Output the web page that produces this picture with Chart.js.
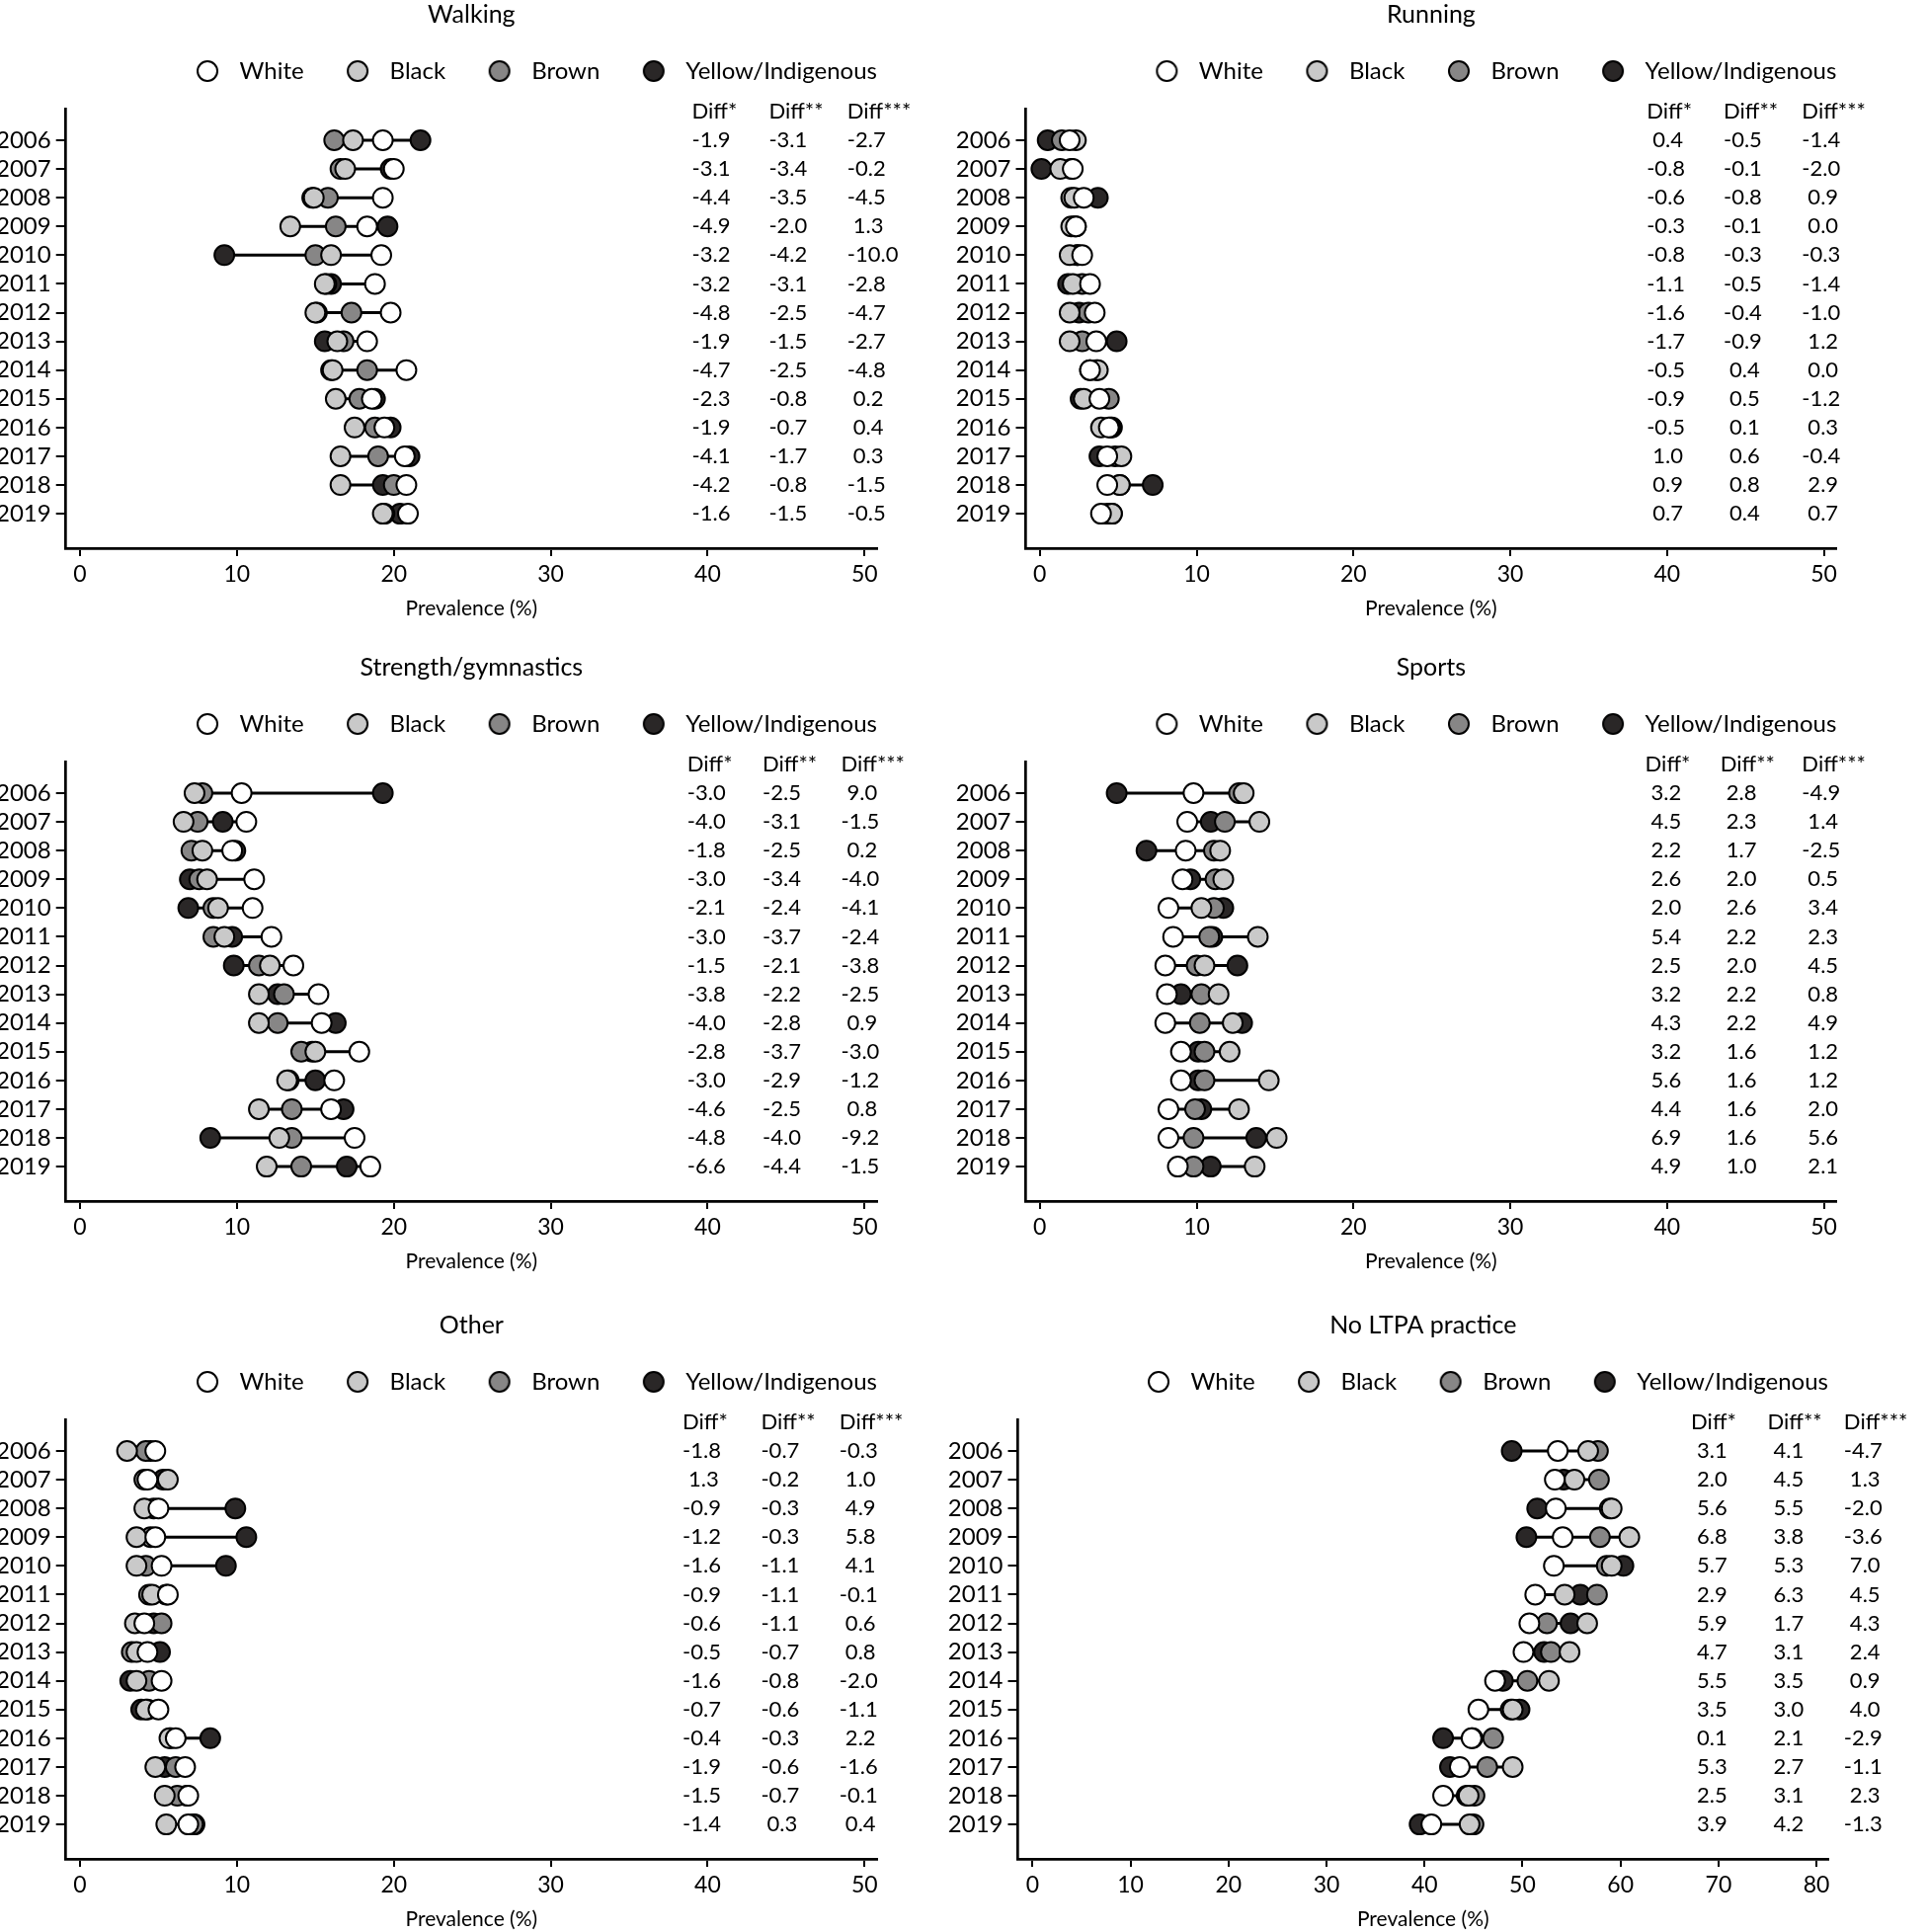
<!DOCTYPE html>
<html><head><meta charset="utf-8">
<script src="https://cdn.jsdelivr.net/npm/chart.js@4.4.1/dist/chart.umd.min.js"></script>
<style>
html,body{margin:0;padding:0;background:#fff;overflow:hidden;width:1952px;height:1956px}
canvas{position:absolute;display:block}
</style></head><body>
<canvas id="c1" width="960" height="629" style="left:0;top:0"></canvas>
<canvas id="c2" width="992" height="629" style="left:960px;top:0"></canvas>
<canvas id="c3" width="960" height="629" style="left:0;top:661px"></canvas>
<canvas id="c4" width="992" height="629" style="left:960px;top:661px"></canvas>
<canvas id="c5" width="960" height="629" style="left:0;top:1327px"></canvas>
<canvas id="c6" width="992" height="629" style="left:960px;top:1327px"></canvas>
<script>
const years = [2006,2007,2008,2009,2010,2011,2012,2013,2014,2015,2016,2017,2018,2019];
const seriesNames = ['White','Black','Brown','Yellow/Indigenous'];
const diffHeaders = ['Diff*','Diff**','Diff***'];

// Walking
const walkWhite  = [19.3,20.0,19.3,18.3,19.2,18.8,19.8,18.3,20.8,18.6,19.4,20.7,20.8,20.9];
const walkBlack  = [17.4,16.9,14.9,13.4,16.0,15.6,15.0,16.4,16.1,16.3,17.5,16.6,16.6,19.3];
const walkBrown  = [16.2,16.6,15.8,16.3,15.0,15.7,17.3,16.8,18.3,17.8,18.8,19.0,20.0,19.4];
const walkYellow = [21.7,19.8,14.8,19.6,9.2,16.0,15.1,15.6,16.0,18.8,19.8,21.0,19.3,20.4];
const walkD1 = [-1.9,-3.1,-4.4,-4.9,-3.2,-3.2,-4.8,-1.9,-4.7,-2.3,-1.9,-4.1,-4.2,-1.6];
const walkD2 = [-3.1,-3.4,-3.5,-2.0,-4.2,-3.1,-2.5,-1.5,-2.5,-0.8,-0.7,-1.7,-0.8,-1.5];
const walkD3 = [-2.7,-0.2,-4.5,1.3,-10.0,-2.8,-4.7,-2.7,-4.8,0.2,0.4,0.3,-1.5,-0.5];

// Running
const runWhite  = [1.9,2.1,2.8,2.3,2.7,3.2,3.5,3.6,3.2,3.8,4.4,4.3,4.3,3.9];
const runBlack  = [2.3,1.3,2.2,2.0,1.9,2.1,1.9,1.9,3.7,2.8,3.9,5.2,5.1,4.6];
const runBrown  = [1.4,2.0,2.0,2.2,2.4,2.7,3.1,2.7,3.6,4.4,4.5,4.8,5.1,4.3];
const runYellow = [0.5,0.1,3.7,2.3,2.4,1.8,2.5,4.9,3.2,2.6,4.6,3.8,7.2,4.6];
const runD1 = [0.4,-0.8,-0.6,-0.3,-0.8,-1.1,-1.6,-1.7,-0.5,-0.9,-0.5,1.0,0.9,0.7];
const runD2 = [-0.5,-0.1,-0.8,-0.1,-0.3,-0.5,-0.4,-0.9,0.4,0.5,0.1,0.6,0.8,0.4];
const runD3 = [-1.4,-2.0,0.9,0.0,-0.3,-1.4,-1.0,1.2,0.0,-1.2,0.3,-0.4,2.9,0.7];

// Strength/gymnastics
const strWhite  = [10.3,10.6,9.7,11.1,11.0,12.2,13.6,15.2,15.4,17.8,16.2,16.0,17.5,18.5];
const strBlack  = [7.3,6.6,7.8,8.1,8.8,9.2,12.1,11.4,11.4,15.0,13.2,11.4,12.7,11.9];
const strBrown  = [7.8,7.5,7.1,7.6,8.5,8.5,11.4,13.0,12.6,14.1,13.3,13.5,13.5,14.1];
const strYellow = [19.3,9.1,9.9,7.0,6.9,9.7,9.8,12.6,16.3,14.8,15.0,16.8,8.3,17.0];
const strD1 = [-3.0,-4.0,-1.8,-3.0,-2.1,-3.0,-1.5,-3.8,-4.0,-2.8,-3.0,-4.6,-4.8,-6.6];
const strD2 = [-2.5,-3.1,-2.5,-3.4,-2.4,-3.7,-2.1,-2.2,-2.8,-3.7,-2.9,-2.5,-4.0,-4.4];
const strD3 = [9.0,-1.5,0.2,-4.0,-4.1,-2.4,-3.8,-2.5,0.9,-3.0,-1.2,0.8,-9.2,-1.5];

// Sports
const spWhite  = [9.8,9.4,9.3,9.1,8.2,8.5,8.0,8.1,8.0,9.0,9.0,8.2,8.2,8.8];
const spBlack  = [13.0,14.0,11.5,11.7,10.3,13.9,10.5,11.4,12.3,12.1,14.6,12.7,15.1,13.7];
const spBrown  = [12.7,11.8,11.1,11.2,11.1,10.8,10.0,10.3,10.2,10.5,10.5,9.9,9.8,9.8];
const spYellow = [4.9,10.9,6.8,9.6,11.7,11.0,12.6,9.0,12.9,10.1,10.1,10.3,13.8,10.9];
const spD1 = [3.2,4.5,2.2,2.6,2.0,5.4,2.5,3.2,4.3,3.2,5.6,4.4,6.9,4.9];
const spD2 = [2.8,2.3,1.7,2.0,2.6,2.2,2.0,2.2,2.2,1.6,1.6,1.6,1.6,1.0];
const spD3 = [-4.9,1.4,-2.5,0.5,3.4,2.3,4.5,0.8,4.9,1.2,1.2,2.0,5.6,2.1];

// Other
const othWhite  = [4.8,4.3,5.0,4.8,5.2,5.6,4.1,4.3,5.2,5.0,6.1,6.7,6.9,6.9];
const othBlack  = [3.0,5.6,4.1,3.6,3.6,4.6,3.5,3.6,3.6,4.2,5.7,4.8,5.4,5.5];
const othBrown  = [4.2,4.1,4.7,4.5,4.2,4.4,5.2,3.3,4.4,4.3,5.8,6.1,6.2,7.2];
const othYellow = [4.5,5.3,9.9,10.6,9.3,5.5,4.7,5.1,3.2,3.9,8.3,5.4,6.8,7.3];
const othD1 = [-1.8,1.3,-0.9,-1.2,-1.6,-0.9,-0.6,-0.5,-1.6,-0.7,-0.4,-1.9,-1.5,-1.4];
const othD2 = [-0.7,-0.2,-0.3,-0.3,-1.1,-1.1,-1.1,-0.7,-0.8,-0.6,-0.3,-0.6,-0.7,0.3];
const othD3 = [-0.3,1.0,4.9,5.8,4.1,-0.1,0.6,0.8,-2.0,-1.1,2.2,-1.6,-0.1,0.4];

// No LTPA practice
const ltWhite  = [53.6,53.3,53.4,54.1,53.2,51.3,50.7,50.1,47.2,45.5,44.8,43.6,41.9,40.7];
const ltBlack  = [56.7,55.3,59.1,60.9,59.1,54.3,56.6,54.8,52.7,49.0,44.9,49.0,44.5,44.6];
const ltBrown  = [57.7,57.8,58.9,57.9,58.6,57.6,52.5,52.9,50.5,48.8,47.0,46.4,45.1,45.0];
const ltYellow = [48.9,54.2,51.5,50.4,60.3,55.9,54.9,52.2,48.0,49.7,41.9,42.6,44.3,39.5];
const ltD1 = [3.1,2.0,5.6,6.8,5.7,2.9,5.9,4.7,5.5,3.5,0.1,5.3,2.5,3.9];
const ltD2 = [4.1,4.5,5.5,3.8,5.3,6.3,1.7,3.1,3.5,3.0,2.1,2.7,3.1,4.2];
const ltD3 = [-4.7,1.3,-2.0,-3.6,7.0,4.5,4.3,2.4,0.9,4.0,-2.9,-1.1,2.3,-1.3];

const ticks50 = [0,10,20,30,40,50];
const ticks80 = [0,10,20,30,40,50,60,70,80];

const fills = ['#ffffff','#c9c9c9','#878686','#2a2727'];

function legendMarker(fill){
  const c = document.createElement('canvas');
  c.width = 60; c.height = 28;
  const g = c.getContext('2d');
  g.beginPath(); g.arc(47, 14, 10, 0, Math.PI*2);
  g.fillStyle = fill; g.fill();
  g.lineWidth = 2; g.strokeStyle = '#000'; g.stroke();
  return c;
}

const diffPlugin = {
  id: 'diffCols',
  afterDatasetsDraw(chart, args, o) {
    if (!o || !o.cols) return;
    const {ctx} = chart; const x = chart.scales.x, y = chart.scales.y;
    ctx.save();
    ctx.font = '22px Lato'; ctx.fillStyle = '#000';
    ctx.textBaseline = 'middle'; ctx.textAlign = 'left';
    diffHeaders.forEach((h, j) => {
      const px = x.getPixelForValue(o.xs[j]);
      ctx.fillText(h, px, y.getPixelForValue(2005));
      o.cols[j].forEach((v, i) => {
        ctx.fillText(v.toFixed(1), px + (v >= 0 ? 6 : 0), y.getPixelForValue(years[i]));
      });
    });
    ctx.restore();
  }
};
const legendSpacer = {
  id: 'legendSpacer',
  beforeLayout(chart) {
    const lg = chart.legend;
    if (lg && !lg._spacerPatched) {
      const fit = lg.fit;
      lg.fit = function(){ fit.call(this); this.height += 16; };
      lg._spacerPatched = true;
    }
  }
};

function makePanel(id, title, s, d, o) {
  const datasets = s.map((arr, k) => ({
    type: 'scatter', label: seriesNames[k], order: k + 1,
    data: years.map((yr, i) => ({x: arr[i], y: yr})),
    backgroundColor: fills[k], borderColor: '#000', borderWidth: 2,
    pointRadius: 10, pointStyle: 'circle'
  }));
  const seg = [];
  years.forEach((yr, i) => {
    const vals = s.map(a => a[i]);
    seg.push({x: Math.min(...vals), y: yr}, {x: Math.max(...vals), y: yr}, {x: null, y: yr});
  });
  datasets.push({type: 'line', label: 'range', order: 10, data: seg, borderColor: '#000',
    borderWidth: 3, pointRadius: 0, fill: false, tension: 0, spanGaps: false});
  const markers = fills.map(legendMarker);
  new Chart(document.getElementById(id), {
    type: 'scatter',
    data: {datasets},
    plugins: [diffPlugin, legendSpacer],
    options: {
      responsive: false, animation: false, events: [],
      layout: {padding: {left: 0, right: o.padRight, top: 0, bottom: 0}},
      plugins: {
        title: {display: true, text: title, fullSize: false, color: '#000',
          font: {size: 25, weight: 'normal'}, padding: {top: 0, bottom: 30}},
        legend: {display: true, position: 'top', align: 'end', fullSize: true,
          labels: {usePointStyle: true, pointStyleWidth: 75, boxHeight: 24, padding: 0,
            color: '#000', font: {size: 24},
            generateLabels(chart) {
              const items = Chart.defaults.plugins.legend.labels.generateLabels(chart);
              return items.filter(it => it.datasetIndex < 4)
                .map(it => Object.assign(it, {pointStyle: markers[it.datasetIndex]}));
            }}},
        tooltip: {enabled: false},
        diffCols: {cols: d, xs: o.diffX}
      },
      scales: {
        x: {type: 'linear', position: 'bottom', min: o.xMin, max: o.xMax,
          afterBuildTicks: sc => { sc.ticks = o.xTicks.map(v => ({value: v})); },
          afterFit: sc => { sc.height = 74; },
          grid: {drawOnChartArea: false, drawTicks: true, tickLength: 8, color: '#000', lineWidth: 2},
          border: {display: true, color: '#000', width: 2.7},
          ticks: {color: '#000', font: {size: 23}, padding: 5, maxRotation: 0, autoSkip: false,
            callback: v => String(v)},
          title: {display: true, text: 'Prevalence (%)', color: '#000', font: {size: 21},
            padding: {top: 0, bottom: 0}}},
        y: {type: 'linear', position: 'left', reverse: true, min: 2004.9, max: 2020.2,
          afterBuildTicks: sc => { sc.ticks = years.map(v => ({value: v})); },
          afterFit: sc => { sc.width = o.yWidth; },
          grid: {drawOnChartArea: false, drawTicks: true, tickLength: 10, color: '#000', lineWidth: 2},
          border: {display: true, color: '#000', width: 2.7},
          ticks: {color: '#000', font: {size: 24}, padding: 5, autoSkip: false,
            callback: v => String(v)}}
      }
    }
  });
}

function build() {
  Chart.defaults.font.family = 'Lato';
  Chart.defaults.color = '#000';
  const L = {xMin: -0.9, xMax: 50.8, xTicks: ticks50, yWidth: 66.7, padRight: 72};
  const R = {xMin: -0.9, xMax: 50.8, xTicks: ticks50, yWidth: 78.5, padRight: 92.7};
  makePanel('c1', 'Walking', [walkWhite, walkBlack, walkBrown, walkYellow], [walkD1, walkD2, walkD3],
    Object.assign({diffX: [39.0, 43.9, 48.9]}, L));
  makePanel('c2', 'Running', [runWhite, runBlack, runBrown, runYellow], [runD1, runD2, runD3],
    Object.assign({diffX: [38.7, 43.6, 48.6]}, R));
  makePanel('c3', 'Strength/gymnastics', [strWhite, strBlack, strBrown, strYellow], [strD1, strD2, strD3],
    Object.assign({diffX: [38.7, 43.5, 48.5]}, L));
  makePanel('c4', 'Sports', [spWhite, spBlack, spBrown, spYellow], [spD1, spD2, spD3],
    Object.assign({diffX: [38.6, 43.4, 48.6]}, R));
  makePanel('c5', 'Other', [othWhite, othBlack, othBrown, othYellow], [othD1, othD2, othD3],
    Object.assign({diffX: [38.4, 43.4, 48.4]}, L));
  makePanel('c6', 'No LTPA practice', [ltWhite, ltBlack, ltBrown, ltYellow], [ltD1, ltD2, ltD3],
    {xMin: -1.5, xMax: 81.2, xTicks: ticks80, yWidth: 70.5, padRight: 101, diffX: [67.2, 75.0, 82.8]});
}
Promise.all([document.fonts.load('24px Lato'), document.fonts.load('21px Lato')])
  .catch(() => {}).then(build);
</script>
</body></html>
